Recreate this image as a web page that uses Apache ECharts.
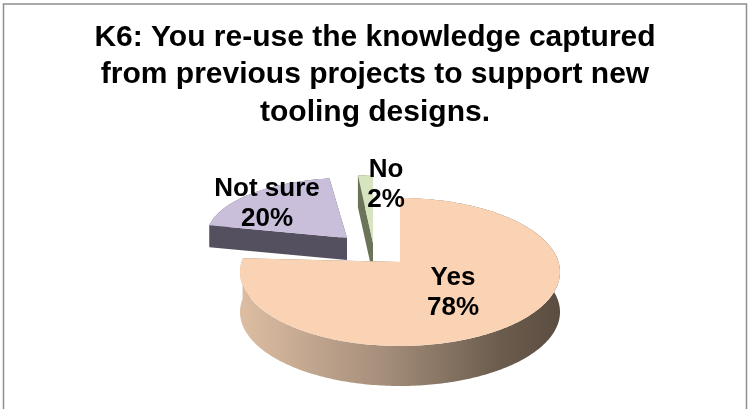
<!DOCTYPE html>
<html>
<head>
<meta charset="utf-8">
<script src="https://cdn.jsdelivr.net/npm/echarts@6/dist/echarts.min.js"></script>
<style>
  html, body { margin: 0; padding: 0; background: #ffffff; }
  #chart { width: 748px; height: 409px; }
</style>
</head>
<body>
<div id="chart"></div>
<script>
// Survey answers and their shares (percent)
const categories = ['Yes', 'Not sure', 'No'];
const shares = [78, 20, 2];
const titleLines = [
  'K6: You re-use the knowledge captured',
  'from previous projects to support new',
  'tooling designs.'
];

// Drawing setup for each wedge of the tilted, exploded pie:
// apex = tip of the wedge, k = drop of the ellipse centre below the tip,
// rx/ry = ellipse radii, depth = thickness of the disc.
const wedgeLook = [
  {
    apex: [400, 262], k: 10, rx: 160, ry: 74, depth: 40, layer: 3,
    top: '#FAD3B4',
    side: new echarts.graphic.LinearGradient(242, 0, 562, 0, [
      { offset: 0, color: '#dcbda2' },
      { offset: 0.45, color: '#a48d7a' },
      { offset: 0.8, color: '#6c5d4e' },
      { offset: 1, color: '#5a4c3f' }
    ], true),
    cut: '#8c7665',
    label: [453, 293]
  },
  {
    apex: [347, 238], k: -2, rx: 140, ry: 58, depth: 22, layer: 2,
    top: '#C9BFDB', side: '#55505F', cut: '#55505F',
    label: [267, 204]
  },
  {
    apex: [373, 243], k: -2, rx: 120, ry: 66, depth: 32, layer: 1,
    top: '#D7E4C0', side: '#6B7359', cut: '#6B7359',
    label: [386, 185]
  }
];

const total = shares.reduce((s, v) => s + v, 0);
let acc = 0;
const pieData = shares.map((v, i) => {
  const start = acc / total;
  acc += v;
  return { name: categories[i], value: [v, start, acc / total] };
});

function rimPoint(g, th) {
  return [g.apex[0] + g.rx * Math.sin(th), g.apex[1] + g.k - g.ry * Math.cos(th)];
}

function renderWedge(params, api) {
  const i = params.dataIndex;
  const g = wedgeLook[i];
  const a0 = api.value(1) * Math.PI * 2;
  const a1 = api.value(2) * Math.PI * 2;
  const steps = Math.max(2, Math.ceil((a1 - a0) / (Math.PI / 180)));
  const rim = [];
  for (let s = 0; s <= steps; s++) rim.push(rimPoint(g, a0 + (a1 - a0) * s / steps));
  const down = p => [p[0], p[1] + g.depth];
  const P = g.apex;
  const base = g.layer * 10;
  const children = [];

  // cut faces along both radii
  [rim[0], rim[rim.length - 1]].forEach(Q => {
    children.push({
      type: 'polygon', z2: base,
      shape: { points: [P, Q, down(Q), down(P)] },
      style: { fill: g.cut }
    });
  });
  // outer wall
  const wall = rim.concat(rim.slice().reverse().map(down));
  children.push({
    type: 'polygon', z2: base + 1,
    shape: { points: wall },
    style: { fill: g.side }
  });
  // top face
  children.push({
    type: 'polygon', z2: base + 2,
    shape: { points: [P].concat(rim) },
    style: { fill: g.top }
  });
  // value label
  children.push({
    type: 'text', z2: 100,
    style: {
      text: categories[i] + '\n' + api.value(0) + '%',
      x: g.label[0], y: g.label[1],
      align: 'center', verticalAlign: 'middle',
      fontFamily: 'Liberation Sans, Arial, sans-serif',
      fontWeight: 'bold', fontSize: 26, lineHeight: 30,
      fill: '#000000'
    }
  });
  return { type: 'group', children };
}

const chart = echarts.init(document.getElementById('chart'), null, { renderer: 'canvas' });
chart.setOption({
  backgroundColor: '#ffffff',
  animation: false,
  graphic: [
    {
      type: 'rect', silent: true,
      shape: { x: 3.5, y: 4, width: 743, height: 460 },
      style: { fill: null, stroke: '#8e8e8e', lineWidth: 1.5 }
    },
    {
      type: 'text', silent: true,
      style: {
        text: titleLines.join('\n'),
        x: 375, y: 75,
        align: 'center', verticalAlign: 'middle',
        fontFamily: 'Liberation Sans, Arial, sans-serif',
        fontWeight: 'bold', fontSize: 30, lineHeight: 37.5,
        fill: '#000000'
      }
    }
  ],
  series: [{
    type: 'custom',
    coordinateSystem: 'none',
    silent: true,
    renderItem: renderWedge,
    data: pieData
  }]
});
</script>
</body>
</html>
